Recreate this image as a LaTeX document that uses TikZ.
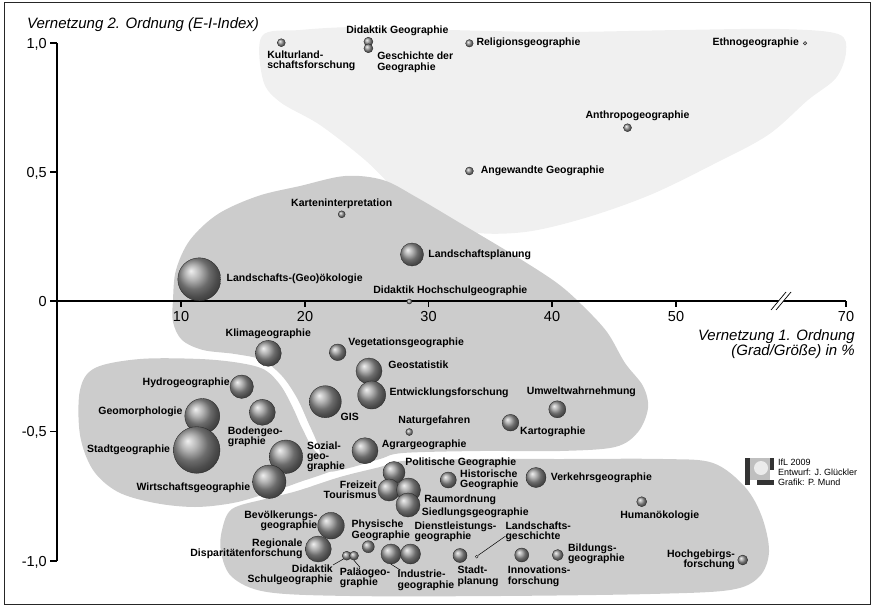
\documentclass[tikz,border=0pt]{standalone}
\usepackage{fontspec}
\setmainfont{Liberation Sans}
\usetikzlibrary{positioning}
\tikzset{
    bubble/.style={
        circle,
        shading=ball,
        ball color=black!40,
        draw=black!85,
        line width=0.35pt,
        inner sep=0pt,
        minimum size=#1
    },
    lbl/.style={
        inner sep=0pt,
        font={\fontsize{10.5}{10.2}\selectfont\bfseries}
    },
    lbla/.style={lbl, align=left},
    lblr/.style={lbl, align=right},
    blob/.style={fill=black!20, draw=none},
    lightblob/.style={fill=black!6, draw=none},
    axisline/.style={line width=1.1pt, black},
    ticklbl/.style={inner sep=0pt, font={\fontsize{14.5}{15}\selectfont}},
    axistitle/.style={inner sep=0pt, font={\fontsize{15}{15}\selectfont\itshape}},
    leaderline/.style={line width=0.5pt, black},
}
\begin{document}
\begin{tikzpicture}[x=1pt, y=-1pt]
\useasboundingbox (0,0) rectangle (875,607);

% Frame
\draw[line width=1.3pt, black!85] (4.5,2.5) rectangle (870.5,604.5);

% Upper group (light)
\fill[lightblob] plot[smooth cycle, tension=0.55] coordinates {
    (262,36) (300,30) (360,27) (450,30) (560,32) (680,30) (780,29) (838,34)
    (846,52) (836,78) (808,100) (768,135) (712,165) (650,195) (585,218)
    (525,232) (470,232) (430,215) (398,192) (365,160) (320,125) (280,102) (263,80)
};

% Middle group
\fill[blob] plot[smooth cycle, tension=0.55] coordinates {
    (173,300) (176,270) (190,240) (218,214) (258,196) (300,186) (345,176)
    (383,180) (416,197) (460,223) (517,257) (557,283) (582,305) (607,332)
    (625,363) (643,386) (648,408) (638,432) (615,447) (560,451) (480,451)
    (403,453) (380,459) (345,469) (325,470) (318,445) (308,422) (297,398)
    (282,376) (262,360) (235,354) (203,350) (182,340) (173,322)
};

% Left group
\fill[blob] plot[smooth cycle, tension=0.55] coordinates {
    (80,390) (95,368) (140,359) (200,359) (240,363) (265,370) (281,386)
    (293,408) (303,430) (316,452) (340,466) (297,483) (265,494) (233,503)
    (195,507) (155,503) (118,492) (93,470) (80,435)
};

% Lower group
\fill[blob] plot[smooth cycle, tension=0.55] coordinates {
    (222,530) (232,509) (265,499) (297,491) (340,477) (380,467) (403,461)
    (480,459) (560,459) (663,459) (713,463) (745,487) (762,517) (769,552)
    (759,577) (730,590) (650,594) (500,596) (350,596) (267,592) (232,577) (221,552)
};

% Axes
\draw[axisline] (57,43) -- (57,561);
\draw[axisline] (57,301) -- (846,301);
\draw[axisline] (50,43) -- (57,43);
\draw[axisline] (50,172) -- (57,172);
\draw[axisline] (50,301) -- (57,301);
\draw[axisline] (50,431.5) -- (57,431.5);
\draw[axisline] (50,561) -- (57,561);
\draw[axisline] (181,301) -- (181,307);
\draw[axisline] (305,301) -- (305,307);
\draw[axisline] (428.5,301) -- (428.5,307);
\draw[axisline] (552,301) -- (552,307);
\draw[axisline] (676,301) -- (676,307);
\draw[axisline] (846,301) -- (846,307);

% Axis break
\fill[white] (771,310) -- (786,292) -- (791,292) -- (776,310) -- cycle;
\draw[line width=0.7pt] (771,310) -- (786,292);
\draw[line width=0.7pt] (776,310) -- (791,292);

% Tick labels
\node[ticklbl, anchor=east] (y10) at (47,44) {1,0};
\node[ticklbl, anchor=east] (y05) at (47,173) {0,5};
\node[ticklbl, anchor=east] (y00) at (47,301.5) {0};
\node[ticklbl, anchor=east] (ym05) at (47,432.5) {-0,5};
\node[ticklbl, anchor=east] (ym10) at (47,562) {-1,0};
\node[ticklbl, anchor=north] (x10) at (181,311.5) {10};
\node[ticklbl, anchor=north] (x20) at (305,311.5) {20};
\node[ticklbl, anchor=north] (x30) at (428.5,311.5) {30};
\node[ticklbl, anchor=north] (x40) at (552,311.5) {40};
\node[ticklbl, anchor=north] (x50) at (676,311.5) {50};
\node[ticklbl, anchor=north] (x70) at (846,311.5) {70};

% Axis titles
\node[axistitle, anchor=west] (ytitle) at (27,25) {Vernetzung 2. Ordnung (E-I-Index)};
\node[axistitle, anchor=east, align=right] (xtitle) at (855,344) {Vernetzung 1. Ordnung\\(Grad/Größe) in \%};

% Kulturlandschaftsforschung
\node[bubble=8pt] (kultur) at (281.3,42.7) {};
\node[lbla, below=4pt of kultur, xshift=30pt] (kulturlbl) {Kulturland-\\schaftsforschung};

% Didaktik Geographie / Geschichte der Geographie
\node[bubble=9pt] (didgeo) at (368.4,41.7) {};
\node[bubble=9pt] (gesch) at (368.4,48.3) {};
\node[lbl, above=1pt of didgeo, xshift=29pt] (didgeolbl) {Didaktik Geographie};
\node[lbla, right=4pt of gesch, yshift=-14pt] (geschlbl) {Geschichte der\\Geographie};

% Religionsgeographie
\node[bubble=7.5pt] (relig) at (469.4,43.3) {};
\node[lbl, right=3pt of relig] (religlbl) {Religionsgeographie};

% Ethnogeographie
\node[bubble=3.6pt] (ethno) at (805,43.3) {};
\node[lbl, left=4pt of ethno] (ethnolbl) {Ethnogeographie};

% Anthropogeographie
\node[bubble=8pt] (anthro) at (627.5,127.7) {};
\node[lbl, above=3pt of anthro, xshift=10pt] (anthrolbl) {Anthropogeographie};

% Angewandte Geographie
\node[bubble=8pt] (angew) at (469.4,171) {};
\node[lbl, right=7pt of angew] (angewlbl) {Angewandte Geographie};

% Karteninterpretation
\node[bubble=7pt] (karten) at (341.7,214.3) {};
\node[lbl, above=1.5pt of karten] (kartenlbl) {Karteninterpretation};

% Landschaftsplanung
\node[bubble=23pt] (lplan) at (412,254.5) {};
\node[lbl, right=4.5pt of lplan] (lplanlbl) {Landschaftsplanung};

% Landschafts-(Geo)oekologie
\node[bubble=43pt] (landoek) at (199.3,279.3) {};
\node[lbl, right=5.5pt of landoek] (landoeklbl) {Landschafts-(Geo)ökologie};

% Didaktik Hochschulgeographie
\node[bubble=5pt] (didhoch) at (409.3,301.5) {};
\node[lbl, above=2.5pt of didhoch, xshift=41pt] (didhochlbl) {Didaktik Hochschulgeographie};

% Klimageographie
\node[bubble=26pt] (klima) at (268.3,353.3) {};
\node[lbl, above=1.5pt of klima] (klimalbl) {Klimageographie};

% Vegetationsgeographie
\node[bubble=16.6pt] (veget) at (337.7,352.3) {};
\node[lbl, right=2pt of veget, yshift=9pt] (vegetlbl) {Vegetationsgeographie};

% Geostatistik / Entwicklungsforschung
\node[bubble=26pt] (geostat) at (369,371) {};
\node[lbl, right=6pt of geostat, yshift=6pt] (geostatlbl) {Geostatistik};
\node[bubble=28pt] (entw) at (371.7,395) {};
\node[lbl, right=3.5pt of entw, yshift=2pt] (entwlbl) {Entwicklungsforschung};

% GIS
\node[bubble=32pt] (gis) at (325.3,401.7) {};
\node[lbl, right=-1pt of gis, yshift=-15pt] (gislbl) {GIS};

% Naturgefahren
\node[bubble=7pt] (natur) at (409.3,432) {};
\node[lbl, above=2pt of natur, xshift=25pt] (naturlbl) {Naturgefahren};

% Umweltwahrnehmung
\node[bubble=17pt] (umwelt) at (557.3,409.3) {};
\node[lbl, above=3.5pt of umwelt, xshift=24pt] (umweltlbl) {Umweltwahrnehmung};

% Kartographie
\node[bubble=16.6pt] (kartog) at (510.5,422.7) {};
\node[lbl, right=1pt of kartog, yshift=-9pt] (kartoglbl) {Kartographie};

% Agrargeographie
\node[bubble=26pt] (agrar) at (365,450.7) {};
\node[lbl, right=3.5pt of agrar, yshift=5.5pt] (agrarlbl) {Agrargeographie};

% Hydrogeographie
\node[bubble=23.4pt] (hydro) at (241.7,386.7) {};
\node[lbl, left=0pt of hydro, yshift=4pt] (hydrolbl) {Hydrogeographie};

% Geomorphologie
\node[bubble=35pt] (geomorph) at (202.3,416) {};
\node[lbl, left=2pt of geomorph, yshift=4pt] (geomorphlbl) {Geomorphologie};

% Bodengeographie
\node[bubble=26pt] (boden) at (262.3,412.3) {};
\node[lbla, below=1.5pt of boden, xshift=-7pt] (bodenlbl) {Bodengeo-\\graphie};

% Stadtgeographie
\node[bubble=46.6pt] (stadt) at (196.7,450) {};
\node[lbl, left=3pt of stadt] (stadtlbl) {Stadtgeographie};

% Sozialgeographie
\node[bubble=33.4pt] (sozial) at (286,456.7) {};
\node[lbla, right=4pt of sozial] (soziallbl) {Sozial-\\geo-\\graphie};

% Wirtschaftsgeographie
\node[bubble=33.4pt] (wirt) at (269.3,481.7) {};
\node[lbl, left=2pt of wirt, yshift=-6pt] (wirtlbl) {Wirtschaftsgeographie};

% Politische Geographie
\node[bubble=22pt] (polit) at (394,472.5) {};
\node[lbl, right=0pt of polit, yshift=10pt] (politlbl) {Politische Geographie};

% Freizeit Tourismus / Raumordnung / Siedlungsgeographie
\node[bubble=22pt] (freizeit) at (389,490) {};
\node[lblr, left=1pt of freizeit] (freizeitlbl) {Freizeit\\Tourismus};
\node[bubble=24pt] (raum) at (408.5,490) {};
\node[lbl, right=3.5pt of raum, yshift=-10pt] (raumlbl) {Raumordnung};
\node[bubble=24pt] (siedl) at (408,505) {};
\node[lbl, right=1.5pt of siedl, yshift=-8pt] (siedllbl) {Siedlungsgeographie};

% Historische Geographie
\node[bubble=16pt] (hist) at (448.3,480) {};
\node[lbla, right=3.5pt of hist] (histlbl) {Historische\\Geographie};

% Verkehrsgeographie
\node[bubble=20pt] (verkehr) at (536,477.5) {};
\node[lbl, right=4.5pt of verkehr] (verkehrlbl) {Verkehrsgeographie};

% Humanoekologie
\node[bubble=10pt] (human) at (641.7,501.7) {};
\node[lbl, below=4pt of human, xshift=18pt] (humanlbl) {Humanökologie};

% Bevoelkerungsgeographie
\node[bubble=26.6pt] (bevoelk) at (331,525.7) {};
\node[lblr, left=0pt of bevoelk, yshift=5pt] (bevoelklbl) {Bevölkerungs-\\geographie};

% Regionale Disparitaetenforschung
\node[bubble=26pt] (region) at (318.3,549) {};
\node[lblr, left=2.5pt of region] (regionlbl) {Regionale\\Disparitätenforschung};

% Physische Geographie
\node[bubble=12pt] (phys) at (368.3,546.7) {};
\node[lbla, above=0pt of phys, xshift=12.5pt] (physlbl) {Physische\\Geographie};

% Didaktik Schulgeographie / Palaeogeographie
\node[bubble=9pt] (didschul) at (346.7,555.7) {};
\node[bubble=9pt] (palaeo) at (354,555.7) {};
\node[lblr, left=9pt of didschul, yshift=-19.5pt] (didschullbl) {Didaktik\\Schulgeographie};
\node[lbla, below=7pt of palaeo, xshift=11pt] (palaeolbl) {Paläogeo-\\graphie};

% Industriegeographie / Dienstleistungsgeographie
\node[bubble=20pt] (industrie) at (391,554) {};
\node[bubble=20pt] (dienst) at (410.5,554) {};
\node[lbla, below=6pt of industrie, xshift=35pt] (industrielbl) {Industrie-\\geographie};
\node[lbla, above=2pt of dienst, xshift=45pt] (dienstlbl) {Dienstleistungs-\\geographie};

% Stadtplanung
\node[bubble=14pt] (stplan) at (460,555.5) {};
\node[lbla, below=3.5pt of stplan, xshift=18pt] (stplanlbl) {Stadt-\\planung};

% Landschaftsgeschichte
\node[bubble=3pt] (lgesch) at (476.7,556.7) {};
\node[lbla, right=27pt of lgesch, yshift=24.5pt] (lgeschlbl) {Landschafts-\\geschichte};

% Innovationsforschung
\node[bubble=14pt] (innov) at (521.7,555) {};
\node[lbla, below=4pt of innov, xshift=17.5pt] (innovlbl) {Innovations-\\forschung};

% Bildungsgeographie
\node[bubble=11pt] (bildung) at (557.7,555) {};
\node[lbla, right=4.5pt of bildung, yshift=1pt] (bildunglbl) {Bildungs-\\geographie};

% Hochgebirgsforschung
\node[bubble=10pt] (hochgeb) at (742.7,560) {};
\node[lblr, left=2.5pt of hochgeb] (hochgeblbl) {Hochgebirgs-\\forschung};

% Leader lines
\draw[leaderline] (didschullbl.north east) -- (didschul.south west);
\draw[leaderline] (palaeo.south) -- ([xshift=-5pt]palaeolbl.north);
\draw[leaderline] (industrie.south) -- ([xshift=3pt]industrielbl.north west);
\draw[leaderline] (lgesch.north east) -- ([yshift=-4pt]lgeschlbl.west);

% Credits
\fill[black!80] (745,458) rectangle (750,485);
\fill[black!25] (750,458) rectangle (770,480);
\fill[black!8] (761,468) circle (7);
\fill[black!80] (770,458) rectangle (774,470);
\fill[black!80] (757,480) rectangle (774,485);
\node[anchor=west, align=left, inner sep=0pt, font={\fontsize{9}{10}\selectfont}] (credit) at (778,472.7) {IfL 2009\\Entwurf: J. Glückler\\Grafik: P. Mund};

\end{tikzpicture}
\end{document}
